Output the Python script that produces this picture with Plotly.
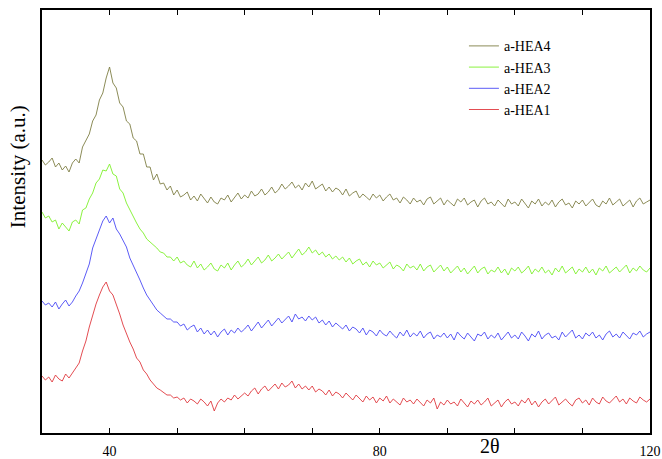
import plotly.graph_objects as go

two_theta = [30 + 0.5 * i for i in range(181)]

hea4 = [273, 268, 271, 275, 266, 270, 263, 267, 261, 270,
        274, 270, 286, 292, 299, 312, 318, 333, 340, 355,
        366, 350, 345, 330, 326, 312, 309, 295, 292, 279,
        279, 266, 266, 253, 259, 249, 250, 243, 247, 238,
        243, 236, 238, 241, 233, 237, 232, 239, 235, 230,
        236, 231, 229, 235, 233, 238, 231, 236, 240, 234,
        238, 235, 242, 237, 239, 244, 238, 241, 246, 240,
        243, 249, 244, 247, 251, 245, 248, 243, 250, 246,
        252, 244, 247, 249, 242, 246, 241, 245, 243, 238,
        244, 237, 240, 242, 235, 239, 236, 233, 239, 235,
        238, 232, 236, 239, 233, 235, 230, 236, 233, 229,
        235, 231, 233, 228, 234, 236, 229, 232, 235, 228,
        233, 230, 227, 234, 231, 235, 228, 231, 233, 226,
        232, 235, 229, 231, 227, 233, 230, 226, 234, 229,
        231, 227, 234, 230, 225, 232, 229, 234, 227, 231,
        228, 233, 226, 231, 234, 228, 230, 225, 232, 229,
        233, 227, 230, 234, 228, 226, 232, 229, 235, 228,
        231, 234, 227, 230, 233, 226, 232, 235, 229, 231,
        233]

hea3 = [221, 215, 217, 211, 213, 204, 210, 206, 202, 211,
        213, 209, 223, 225, 234, 240, 250, 254, 263, 262,
        269, 259, 257, 244, 240, 230, 223, 216, 210, 204,
        200, 194, 191, 187, 185, 181, 180, 176, 176, 172,
        176, 170, 172, 168, 166, 172, 165, 169, 163, 166,
        170, 164, 162, 168, 165, 170, 163, 168, 172, 166,
        169, 174, 168, 172, 176, 170, 173, 178, 172, 175,
        179, 174, 177, 181, 175, 179, 184, 178, 181, 186,
        180, 183, 178, 181, 176, 179, 174, 177, 173, 176,
        171, 175, 169, 172, 174, 168, 171, 166, 172, 168,
        170, 165, 168, 171, 164, 168, 166, 162, 169, 165,
        167, 163, 169, 162, 166, 168, 161, 165, 168, 162,
        166, 160, 164, 167, 161, 165, 159, 163, 167, 160,
        164, 166, 159, 163, 161, 166, 160, 164, 158, 165,
        162, 166, 160, 163, 167, 159, 164, 161, 166, 160,
        163, 158, 165, 161, 167, 160, 163, 166, 159, 164,
        161, 166, 160, 164, 158, 165, 162, 167, 160, 163,
        166, 161, 164, 168, 160, 165, 162, 167, 163, 161,
        165]

hea2 = [132, 128, 130, 126, 131, 124, 129, 133, 127, 131,
        137, 142, 150, 160, 169, 185, 194, 204, 212, 217,
        210, 215, 204, 199, 192, 186, 175, 168, 160, 153,
        145, 138, 133, 128, 123, 120, 117, 114, 114, 111,
        111, 107, 109, 103, 106, 108, 101, 105, 99, 103,
        98, 102, 96, 101, 104, 98, 103, 100, 105, 101,
        104, 108, 102, 107, 111, 105, 109, 113, 107, 111,
        115, 110, 113, 117, 111, 119, 114, 116, 112, 117,
        113, 116, 110, 113, 108, 112, 106, 110, 107, 104,
        108, 102, 106, 104, 100, 105, 98, 103, 101, 97,
        103, 99, 97, 102, 98, 95, 101, 97, 103, 96,
        100, 97, 102, 95, 99, 101, 94, 98, 96, 100,
        95, 99, 93, 101, 97, 94, 100, 96, 92, 99,
        97, 101, 94, 98, 95, 100, 93, 97, 101, 95,
        98, 94, 101, 97, 92, 99, 96, 102, 94, 98,
        100, 95, 97, 93, 101, 96, 99, 103, 95, 98,
        94, 100, 97, 101, 95, 98, 93, 99, 102, 96,
        99, 95, 101, 97, 94, 100, 98, 102, 96, 99,
        101]

hea1 = [57, 53, 56, 51, 58, 54, 52, 59, 55, 60,
        64, 70, 82, 92, 106, 118, 129, 138, 146, 151,
        142, 138, 129, 119, 108, 99, 91, 84, 75, 71,
        63, 59, 53, 49, 45, 43, 40, 38, 38, 35,
        36, 33, 35, 30, 34, 32, 29, 34, 31, 27,
        32, 22, 30, 34, 31, 35, 33, 38, 34, 37,
        40, 37, 42, 45, 39, 44, 47, 42, 46, 49,
        44, 50, 46, 48, 52, 45, 49, 44, 47, 43,
        47, 41, 44, 42, 38, 43, 37, 41, 39, 35,
        40, 36, 33, 38, 35, 31, 37, 33, 36, 30,
        35, 32, 37, 30, 34, 31, 28, 35, 31, 33,
        29, 34, 31, 27, 33, 30, 35, 24, 31, 28,
        33, 29, 31, 27, 34, 30, 26, 32, 29, 33,
        28, 31, 35, 27, 30, 33, 26, 31, 34, 29,
        31, 27, 33, 30, 35, 28, 32, 26, 31, 34,
        29, 33, 36, 28, 31, 34, 30, 27, 33, 35,
        30, 33, 28, 35, 31, 29, 36, 32, 30, 34,
        37, 31, 34, 29, 35, 32, 30, 36, 33, 31,
        34]

series_names = ["a-HEA4", "a-HEA3", "a-HEA2", "a-HEA1"]
series_values = [hea4, hea3, hea2, hea1]
series_colors = ["#7f7f45", "#7ef02a", "#4a4af5", "#e0393e"]

tick_vals = [30, 40, 50, 60, 70, 80, 90, 100, 110, 120]
tick_text = ["", "40", "", "", "", "80", "", "", "", "120"]

FONT = "Liberation Serif"

fig = go.Figure()
for name, vals, col in zip(series_names, series_values, series_colors):
    fig.add_trace(go.Scatter(x=two_theta, y=vals, mode="lines", name=name,
                             line=dict(color=col, width=0.9)))

fig.update_layout(
    width=662, height=459,
    margin=dict(l=42, r=12, t=10, b=26, autoexpand=False),
    paper_bgcolor="white", plot_bgcolor="white",
    font=dict(family=FONT, size=14, color="black"),
    showlegend=True,
    legend=dict(x=0.694, y=0.952, xanchor="left", yanchor="top",
                bgcolor="rgba(0,0,0,0)", font=dict(family=FONT, size=14),
                itemwidth=30, tracegroupgap=0),
    xaxis=dict(range=[30, 120], tickmode="array", tickvals=tick_vals, ticktext=tick_text,
               ticks="inside", ticklen=5, tickwidth=1, tickcolor="black",
               ticklabelstandoff=4, automargin=False,
               showline=True, linecolor="black", linewidth=1.5, mirror="ticks",
               showgrid=False, zeroline=False, tickfont=dict(family=FONT, size=14)),
    yaxis=dict(range=[0, 423], showticklabels=False, ticks="", automargin=False,
               showline=True, linecolor="black", linewidth=1.5, mirror=True,
               showgrid=False, zeroline=False),
    annotations=[
        dict(text="Intensity (a.u.)", xref="paper", yref="paper", x=-0.04, y=0.63,
             xanchor="center", yanchor="middle", textangle=-90, showarrow=False,
             font=dict(family=FONT, size=21)),
        dict(text="2θ", xref="paper", yref="paper", x=0.737, y=-0.031,
             xanchor="center", yanchor="middle", showarrow=False, borderpad=0,
             font=dict(family=FONT, size=20)),
    ],
)

fig.write_html("out.html", config={"displayModeBar": False},
               post_script="document.body.style.margin='0px';")
